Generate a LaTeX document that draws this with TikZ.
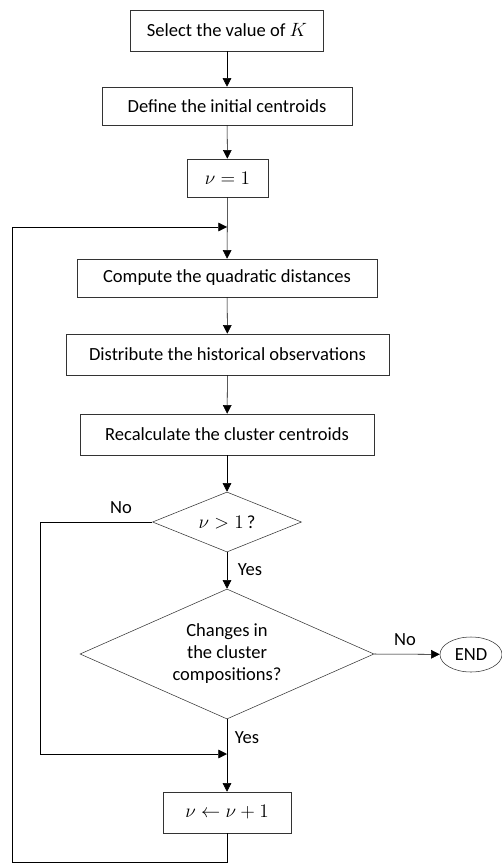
\documentclass[tikz,border=0pt]{standalone}
\usepackage{fontspec}
\setmainfont{Carlito}
\usetikzlibrary{shapes.geometric,arrows.meta}

\begin{document}
\begin{tikzpicture}[x=0.75pt,y=-0.75pt,
    every node/.style={font=\fontsize{13.9}{16.5}\selectfont},
    box/.style={draw=black!80,rectangle,inner sep=0pt},
    decision/.style={draw=black!80,diamond,inner sep=0pt,align=center},
    terminal/.style={draw=black!80,ellipse,inner sep=0pt},
    lbl/.style={inner sep=0pt},
    arr/.style={-{Triangle[length=6.5pt,width=6.5pt]}}]
  \useasboundingbox (0,0) rectangle (502,863);
  \draw
    (227,30.5) node[box,minimum width=144.75pt,minimum height=30.75pt] (select){Select the value of $K$}
    (227,106) node[box,minimum width=187.5pt,minimum height=28.5pt] (define){Define the initial centroids}
    (227.5,178) node[box,minimum width=60.75pt,minimum height=28.5pt] (init){$\nu = 1$}
    (227,278) node[box,minimum width=225pt,minimum height=28.5pt] (compute){Compute the quadratic distances}
    (227.5,354.5) node[box,minimum width=242.25pt,minimum height=30.75pt] (distribute){Distribute the historical observations}
    (227,434.5) node[box,minimum width=220.5pt,minimum height=30.75pt] (recalc){Recalculate the cluster centroids}
    (227,522) node[decision,aspect=2.5,minimum width=111.75pt,minimum height=45pt] (test){$\nu > 1\,$?}
    (227,654) node[decision,aspect=2.26,minimum width=220.5pt,minimum height=97.5pt] (changes){Changes in\\the cluster\\compositions?}
    (471,654.5) node[terminal,minimum width=46.5pt,minimum height=26.25pt] (end){END}
    (227,812.5) node[box,minimum width=96pt,minimum height=30.75pt] (update){$\nu \leftarrow \nu + 1$};
  % branch labels
  \draw
    (121,508) node[lbl] (notest){No}
    (250,570) node[lbl] (yestest){Yes}
    (405,640) node[lbl] (nochanges){No}
    (247,738) node[lbl] (yeschanges){Yes};
  \coordinate (merge) at (227,227);
  \coordinate (rejoin) at (227,754);
  \coordinate (loopcorner) at (12,862);
  \begin{scope}[arr]
    \draw (select) to (define);
    \draw (define) to (init);
    \draw (init) to (compute);
    \draw (compute) to (distribute);
    \draw (distribute) to (recalc);
    \draw (recalc) to (test);
    \draw (test) to (changes);
    \draw (test.west) -- ++(-112,0) |- (rejoin);
    \draw (changes) to (update);
    \draw (changes.east) to (end);
    \draw (update.south) |- (loopcorner) |- (merge);
  \end{scope}
\end{tikzpicture}
\end{document}
